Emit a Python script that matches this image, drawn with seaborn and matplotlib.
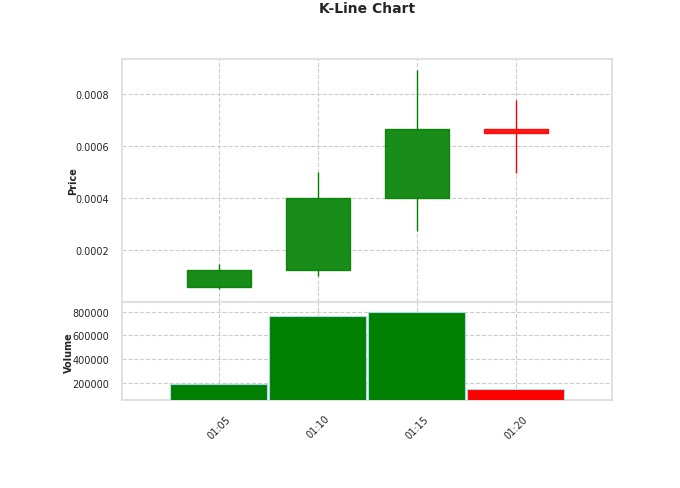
import numpy as np
import pandas as pd
import matplotlib
matplotlib.use('Agg')
import matplotlib.pyplot as plt
import seaborn as sns

# Candle data (minutes after 01:00)
times = ['01:05', '01:10', '01:15', '01:20']
minutes = [5, 10, 15, 20]
opens = [0.000061, 0.000126, 0.000400, 0.000665]
closes = [0.000126, 0.000400, 0.000665, 0.000650]
highs = [0.000149, 0.000501, 0.000895, 0.000780]
lows = [0.000050, 0.000100, 0.000275, 0.000497]
volumes = [186000, 760000, 797000, 149000]

df = pd.DataFrame({'minute': minutes, 'open': opens, 'close': closes,
                   'high': highs, 'low': lows, 'volume': volumes})
df['color'] = np.where(df['close'] >= df['open'], 'green', 'red')

sns.set_theme(style='whitegrid')
plt.rcParams['font.family'] = ['DejaVu Sans']

fig = plt.figure(figsize=(6.8, 4.89), dpi=100)
ax1 = fig.add_axes([0.179, 0.3795, 0.7206, 0.4985])
ax2 = fig.add_axes([0.179, 0.18, 0.7206, 0.1995], sharex=ax1)

for ax in (ax1, ax2):
    ax.grid(True, linestyle='--', color='#cccccc', linewidth=0.8)
    for s in ax.spines.values():
        s.set_color('#dddddd')

# Candles: wick drawn in two pieces so it does not show through the body
body_w = 3.25
for _, r in df.iterrows():
    top = max(r['open'], r['close'])
    bottom = min(r['open'], r['close'])
    ax1.vlines(r['minute'], top, r['high'], color=r['color'], linewidth=1, zorder=2)
    ax1.vlines(r['minute'], r['low'], bottom, color=r['color'], linewidth=1, zorder=2)
    ax1.bar(r['minute'], top - bottom, bottom=bottom, width=body_w, color=r['color'],
            alpha=0.9, edgecolor=r['color'], linewidth=1, zorder=3)

ax1.set_ylim(0, 0.000937)
ax1.set_ylabel('Price', fontsize=7, fontweight='bold')
ax1.yaxis.set_label_coords(-0.088, 0.5)
ax1.tick_params(axis='y', labelsize=7, pad=3)
ax1.tick_params(axis='x', labelbottom=False)
ax1.set_yticks([0.0002, 0.0004, 0.0006, 0.0008])
ax1.set_yticklabels(['0.0002', '0.0004', '0.0006', '0.0008'])

# Volume
ax2.bar(df['minute'], df['volume'], width=4.9, color=df['color'],
        edgecolor='lightblue', linewidth=0.8, zorder=3)
ax2.set_ylim(55000, 877000)
ax2.set_yticks([200000, 400000, 600000, 800000])
ax2.set_ylabel('Volume', fontsize=7, fontweight='bold')
ax2.yaxis.set_label_coords(-0.097, 0.5)
ax2.tick_params(axis='y', labelsize=7, pad=3)

ax2.set_xlim(0.1, 24.85)
ax2.set_xticks(minutes)
ax2.set_xticklabels(times, rotation=45, fontsize=7)

fig.text(367 / 680, 1 - 9 / 489, 'K-Line Chart', ha='center', va='center',
         fontsize=10, fontweight='bold')

fig.savefig('out.png', dpi=100)
